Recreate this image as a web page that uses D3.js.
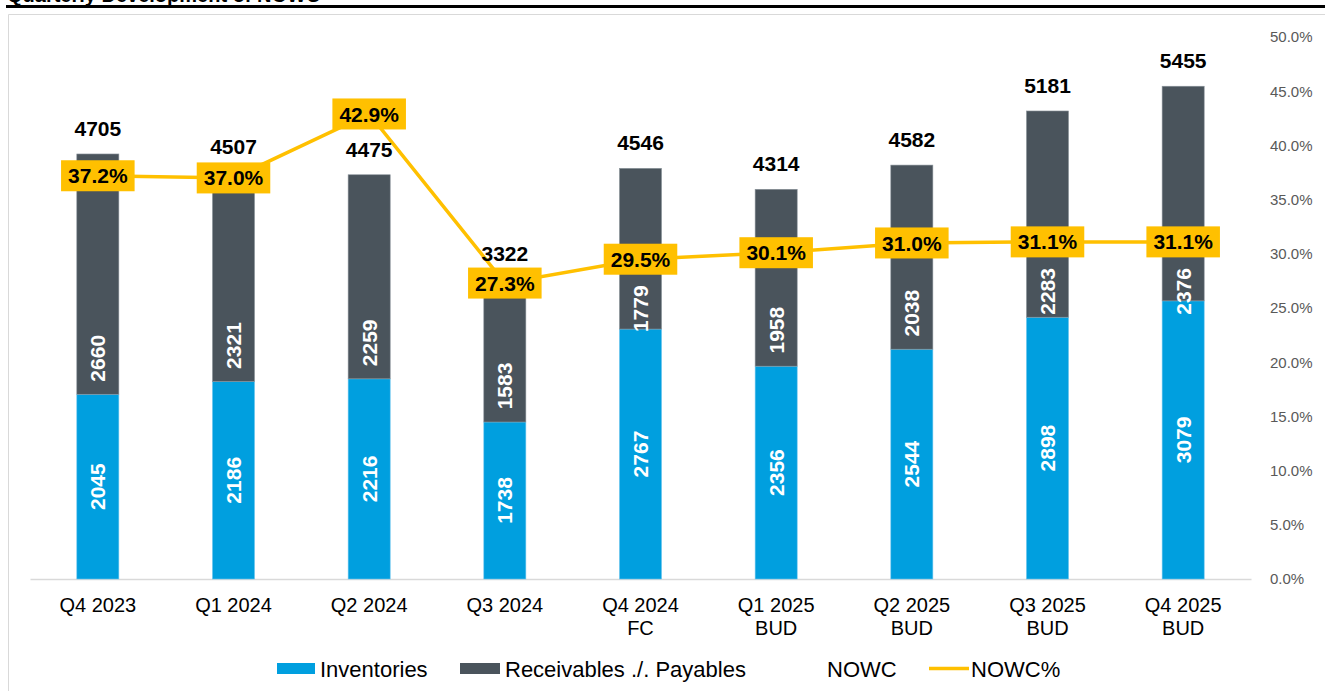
<!DOCTYPE html>
<html>
<head>
<meta charset="utf-8">
<script src="https://cdn.jsdelivr.net/npm/d3@7"></script>
<style>
  html, body { margin: 0; padding: 0; background: #fff; }
  svg { display: block; font-family: "Liberation Sans", Arial, sans-serif; }
</style>
</head>
<body>
<svg id="chart" width="1325" height="691"></svg>
<script>
// ---------- data ----------
const title = "Quarterly Development of NOWC";
const categories = ["Q4 2023","Q1 2024","Q2 2024","Q3 2024","Q4 2024","Q1 2025","Q2 2025","Q3 2025","Q4 2025"];
const categorySub = ["","","","","FC","BUD","BUD","BUD","BUD"];
const inventories = [2045,2186,2216,1738,2767,2356,2544,2898,3079];
const receivablesPayables = [2660,2321,2259,1583,1779,1958,2038,2283,2376];
const nowc = [4705,4507,4475,3322,4546,4314,4582,5181,5455];
const nowcPct = [0.372,0.370,0.429,0.273,0.295,0.301,0.310,0.311,0.311];
const pctTicks = [0,0.05,0.10,0.15,0.20,0.25,0.30,0.35,0.40,0.45,0.50];
const legendLabels = ["Inventories","Receivables ./. Payables","NOWC","NOWC%"];

// ---------- styles ----------
const C_INV = "#009FDF", C_REC = "#4A545C", C_LINE = "#FFC000";

const svg = d3.select("#chart");

// title (clipped at the top) and rule
svg.append("text").attr("x", 7).attr("y", 2)
  .attr("font-weight", "bold").attr("font-size", 20).attr("fill", "#000").text(title);
svg.append("rect").attr("x", 6).attr("y", 5).attr("width", 1319).attr("height", 3).attr("fill", "#000");

// chart border
svg.append("path").attr("d", "M8.5,691 V14.5 H1325")
  .attr("fill", "none").attr("stroke", "#d9d9d9").attr("stroke-width", 1);

// ---------- scales ----------
const plotL = 30, plotR = 1251, plotT = 37, plotB = 579;
const x = d3.scaleBand().domain(categories).range([plotL, plotR]).paddingInner(0.69).paddingOuter(0.345);
const xc = d => x(d) + x.bandwidth() / 2;
const yBar = d3.scaleLinear().domain([0, 6000]).range([plotB, plotT]);
const yPct = d3.scaleLinear().domain([0, 0.5]).range([plotB, plotT]);

// ---------- right axis ----------
const ra = svg.append("g").attr("transform", `translate(1262,0)`)
  .call(d3.axisRight(yPct).tickValues(pctTicks).tickFormat(d3.format(".1%")).tickSize(0).tickPadding(8));
ra.select(".domain").remove();
ra.selectAll("text").attr("font-size", 15).attr("fill", "#595959").attr("font-family", '"Liberation Sans", Arial, sans-serif');

// ---------- bottom axis ----------
const ba = svg.append("g").attr("transform", `translate(0,${plotB})`)
  .call(d3.axisBottom(x).tickSize(0).tickSizeOuter(0).tickPadding(0).tickFormat(() => ""));
ba.select(".domain").attr("stroke", "#d9d9d9").attr("stroke-width", 1.5);
ba.selectAll(".tick text").remove();
categories.forEach((c, i) => {
  const t = svg.append("text").attr("x", xc(c)).attr("y", 612)
    .attr("text-anchor", "middle").attr("font-size", 20).attr("fill", "#000");
  t.append("tspan").attr("x", xc(c)).text(c);
  if (categorySub[i]) t.append("tspan").attr("x", xc(c)).attr("dy", 23).text(categorySub[i]);
});

// ---------- bars ----------
const rows = categories.map((c, i) => ({ c, inv: inventories[i], rec: receivablesPayables[i], tot: nowc[i], pct: nowcPct[i] }));
const gBars = svg.append("g");
gBars.selectAll("rect.inv").data(rows).join("rect")
  .attr("x", d => x(d.c)).attr("width", x.bandwidth())
  .attr("y", d => yBar(d.inv)).attr("height", d => yBar(0) - yBar(d.inv))
  .attr("fill", C_INV).attr("stroke", "#6cc6ef").attr("stroke-width", 0.6);
gBars.selectAll("rect.rec").data(rows).join("rect")
  .attr("x", d => x(d.c)).attr("width", x.bandwidth())
  .attr("y", d => yBar(d.inv + d.rec)).attr("height", d => yBar(d.inv) - yBar(d.inv + d.rec))
  .attr("fill", C_REC).attr("stroke", "#8a939a").attr("stroke-width", 0.6);

// ---------- line ----------
svg.append("path").datum(rows)
  .attr("d", d3.line().x(d => xc(d.c)).y(d => yPct(d.pct)))
  .attr("fill", "none").attr("stroke", C_LINE).attr("stroke-width", 3.5);

// ---------- inside labels ----------
const BOX_H = 31;
const labelW = 48;
const gIn = svg.append("g").attr("font-weight", "bold").attr("font-size", 21).attr("fill", "#fff");
rows.forEach(d => {
  const cx = xc(d.c);
  const invMid = (yBar(0) + yBar(d.inv)) / 2;
  gIn.append("text").attr("transform", `translate(${cx + 7.5},${invMid}) rotate(-90)`)
    .attr("text-anchor", "middle").text(d.inv);
  const segBottom = yBar(d.inv);
  let topY = segBottom - 12 - labelW;
  const boxBottom = yPct(d.pct) + BOX_H / 2;
  if (topY < boxBottom + 10) topY = boxBottom + 10;
  const recMid = topY + labelW / 2;
  gIn.append("text").attr("transform", `translate(${cx + 7.5},${recMid}) rotate(-90)`)
    .attr("text-anchor", "middle").text(d.rec);
});

// ---------- totals ----------
svg.append("g").selectAll("text").data(rows).join("text")
  .attr("x", d => xc(d.c)).attr("y", d => yBar(d.inv + d.rec) - 18)
  .attr("text-anchor", "middle").attr("font-weight", "bold").attr("font-size", 21).attr("fill", "#000")
  .text(d => d.tot);

// ---------- % boxes ----------
const gPct = svg.append("g");
rows.forEach(d => {
  const cx = xc(d.c), cy = yPct(d.pct);
  const g = gPct.append("g");
  const t = g.append("text").attr("x", cx).attr("y", cy).attr("dy", "0.36em")
    .attr("text-anchor", "middle").attr("font-weight", "bold").attr("font-size", 21).attr("fill", "#000")
    .text(d3.format(".1%")(d.pct));
  const w = t.node().getComputedTextLength() + 14;
  g.insert("rect", "text").attr("x", cx - w / 2).attr("y", cy - BOX_H / 2)
    .attr("width", w).attr("height", BOX_H).attr("fill", C_LINE);
});

// ---------- legend ----------
const lg = svg.append("g").attr("font-size", 22).attr("fill", "#000");
lg.append("rect").attr("x", 277).attr("y", 663).attr("width", 38).attr("height", 11).attr("fill", C_INV);
lg.append("text").attr("x", 320).attr("y", 677).text(legendLabels[0]);
lg.append("rect").attr("x", 460).attr("y", 663).attr("width", 40).attr("height", 11).attr("fill", C_REC);
lg.append("text").attr("x", 505).attr("y", 677).text(legendLabels[1]);
lg.append("text").attr("x", 827).attr("y", 677).text(legendLabels[2]);
lg.append("line").attr("x1", 929).attr("x2", 969).attr("y1", 668.5).attr("y2", 668.5)
  .attr("stroke", C_LINE).attr("stroke-width", 3.5);
lg.append("text").attr("x", 971).attr("y", 677).text(legendLabels[3]);
</script>
</body>
</html>
